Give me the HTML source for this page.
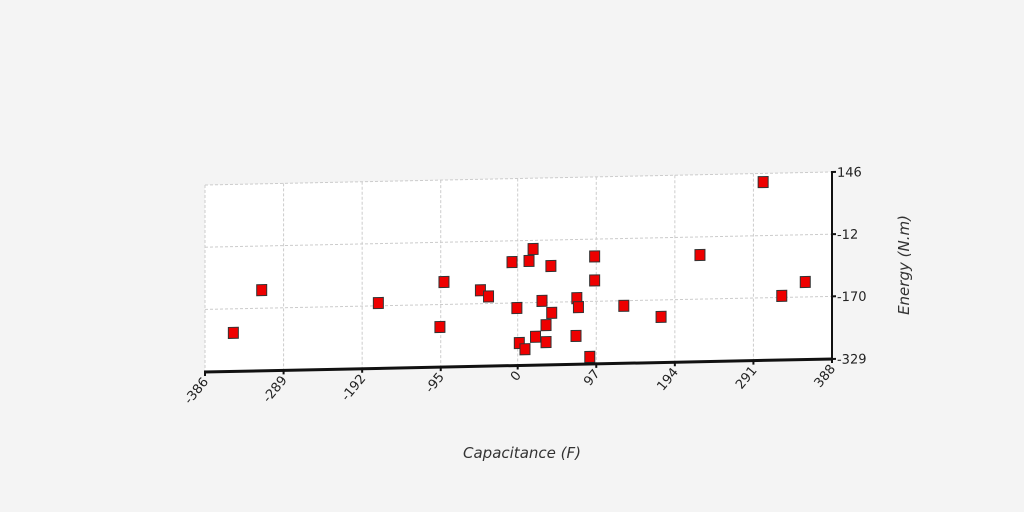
<!DOCTYPE html>
<html><head><meta charset="utf-8"><style>
html,body{margin:0;padding:0;background:#f4f4f4;}
svg{display:block;font-family:"DejaVu Sans","Liberation Sans",sans-serif;}
</style></head><body>
<svg width="1024" height="512" viewBox="0 0 1024 512">
<rect width="1024" height="512" fill="#f4f4f4"/>
<g id="skew" transform="translate(205,0) skewY(-1.19) translate(-205,0)">
<rect x="205" y="185" width="627" height="187" fill="#fff"/>
<g id="grid"></g>
<g id="pts"></g>
<line x1="204" y1="372" x2="833" y2="372" stroke="#111" stroke-width="3"/>
<line x1="832" y1="184" x2="832" y2="373" stroke="#111" stroke-width="2"/>
<g id="xt"></g>
<g id="yt"></g>
</g>
<text x="522" y="458" text-anchor="middle" font-size="15" font-style="italic" fill="#333">Capacitance (F)</text>
<text transform="translate(909,265) rotate(-90)" text-anchor="middle" font-size="15" font-style="italic" fill="#333">Energy (N.m)</text>
</svg>
<script>
const xTicks=[-386,-289,-192,-95,0,97,194,291,388];
const yTicks=[146,-12,-170,-329];
const xVals=[-351,-316,-172,-96,-91,-46,-36,-7,-1,2,9,14,19,22,30,35,35,41,42,72,73,75,89,95,95,131,177,225,303,326,355];
const yVals=[-231,-124,-163,-227,-113,-136,-152,-66,-183,-272,-288,-64,-34,-257,-166,-228,-271,-78,-197,-257,-161,-184,-311,-56,-117,-183,-213,-58,124,-166,-132];
const NS='http://www.w3.org/2000/svg';
const X0=205,X1=832,Y0=185,Y1=372;
function sx(v){return X0+(v-(-386))/(388-(-386))*(X1-X0);}
function sy(v){return Y0+(146-v)/(146-(-329))*(Y1-Y0);}
function mk(t,a,p){const e=document.createElementNS(NS,t);for(const k in a)e.setAttribute(k,a[k]);p.appendChild(e);return e;}
const grid=document.getElementById('grid');
xTicks.forEach(t=>{const l=mk('line',{x1:sx(t),x2:sx(t),y1:Y0,y2:Y1,stroke:'#ccc','stroke-dasharray':'3,2'},grid);

});
yTicks.forEach(t=>{const l=mk('line',{x1:X0,x2:X1,y1:sy(t),y2:sy(t),stroke:'#ccc','stroke-dasharray':'3,2'},grid);

});
const xt=document.getElementById('xt');
xTicks.forEach(t=>{const x=sx(t);const tx=mk('text',{x:x+4,y:Y1+10,'text-anchor':'end','font-size':'13',fill:'#222',transform:'rotate(-50 '+(x+4)+' '+(Y1+10)+')'},xt);tx.textContent=t;


const tk=mk('line',{x1:x,x2:x,y1:Y1,y2:Y1+4,stroke:'#111','stroke-width':2},xt);

});
const yt=document.getElementById('yt');
yTicks.forEach(t=>{const y=sy(t);const tx=mk('text',{x:X1+5,y:y+5,'font-size':'13',fill:'#222'},yt);tx.textContent=t;


const tk=mk('line',{x1:X1,x2:X1+4,y1:y,y2:y,stroke:'#111','stroke-width':2},yt);

});
const pts=document.getElementById('pts');
xVals.forEach((v,i)=>{const r=mk('rect',{x:sx(v)-5,y:sy(yVals[i])-5.5,width:10,height:11,fill:'#ee0000',stroke:'#333','stroke-width':1},pts);

});
</script>
</body></html>
